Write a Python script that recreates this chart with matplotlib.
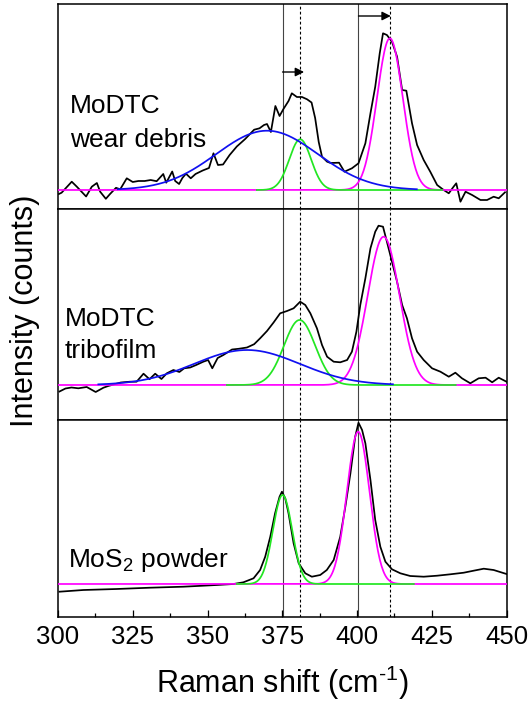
import numpy as np
import matplotlib.pyplot as plt
from matplotlib.ticker import MultipleLocator

plt.rcParams['font.family'] = ['Liberation Sans', 'DejaVu Sans']
plt.rcParams['mathtext.default'] = 'regular'

# measured spectra (baseline at 0, arbitrary counts)
debris_shift = [300.3, 301.2, 304.6, 306.3, 309.4, 311.3, 313.0, 314.1, 316.0, 317.4, 319.4, 320.8,
                323.0, 325.0, 326.9, 329.0, 331.0, 333.0, 335.2, 336.2, 338.2, 339.2, 340.5, 341.6,
                342.8, 344.4, 346.0, 348.4, 350.5, 352.0, 353.5, 355.2, 357.4, 359.8, 362.6, 365.6,
                367.4, 368.9, 369.9, 371.2, 372.7, 374.1, 375.4, 377.1, 378.2, 379.9, 381.6, 383.3,
                384.8, 386.0, 387.2, 388.3, 390.0, 391.2, 394.0, 395.8, 398.3, 400.5, 402.8, 404.5,
                406.1, 407.6, 408.7, 410.0, 411.7, 413.4, 415.1, 416.5, 418.4, 420.1, 422.3, 424.5,
                426.8, 429.0, 430.7, 432.3, 433.2, 434.6, 436.3, 438.5, 441.3, 443.5, 445.7, 447.4,
                449.5]
debris_counts = [-4, -2.7, 8.3, 3.3, -6.5, 3.3, 7, -1.7, -8.8, -4, 2.2, 0.7,
                 11.7, 8, 9, 9, 10, 8.8, 16, 7.3, 18.5, 9, 6, 12,
                 16.3, 11.7, 16, 19.5, 22, 36.7, 25, 25.5, 35, 43.5, 51, 60.3,
                 61.7, 65, 66, 58, 84, 74, 81, 89, 96.7, 93, 93, 90.7,
                 87.5, 72, 48, 33.3, 28.3, 27, 27.3, 18.3, 21.7, 26.7, 46.7, 76.7,
                 103.3, 136.7, 156.7, 155, 148.3, 133.3, 100, 99.3, 66.7, 45, 30, 18.3,
                 5, 0, -3.3, 3.3, 6.7, -11.7, -1.7, -5, -10, -10, -6.7, -8.3,
                 -2.3]

film_shift = [300.5, 302.5, 304.5, 306.8, 309.6, 312.6, 315.2, 316.8, 318.0, 321.0, 324.1, 326.3,
              328.6, 330.6, 332.5, 334.6, 336.4, 338.6, 340.6, 342.2, 344.2, 346.2, 348.6, 350.2,
              351.6, 353.4, 355.3, 358.2, 360.4, 363.2, 365.6, 367.6, 369.9, 372.1, 374.3, 376.6,
              378.8, 381.0, 382.7, 384.4, 386.6, 388.3, 390.0, 392.2, 394.4, 396.7, 398.3, 399.8,
              401.1, 402.8, 404.5, 406.1, 407.2, 408.7, 410.0, 411.7, 413.4, 415.1, 416.7, 418.4,
              420.1, 422.3, 425.1, 427.9, 430.7, 432.9, 435.1, 437.9, 440.7, 443.0, 445.2, 447.4,
              450.0]
film_counts = [-6.5, -3.5, -2.5, -3.3, -2, -7, -2.7, -1, 0, 2.5, 3.3, 3.3,
               11.3, 5.8, 11.3, 6, 11.7, 15, 13, 16.7, 17.5, 20, 23.3, 25,
               16.7, 27, 30, 35.5, 36.2, 37.5, 40.8, 46.7, 54, 62.5, 71.7, 74,
               76.7, 83.3, 80, 71.7, 56.7, 40, 28.3, 23.3, 22.7, 25, 33.3, 53.3,
               80, 106.7, 136.7, 153.3, 159.3, 158.3, 143.3, 123.3, 103.3, 80, 66.7, 46.7,
               33.3, 25, 16.7, 13.3, 8.3, 12.3, 6.7, 1.7, 6.7, 7.3, 2.7, 7.3,
               3.3]

powder_shift = [300.5, 308.5, 319.6, 330.8, 341.9, 348.6, 353.1, 358.7, 362.0, 365.4, 367.6, 369.3,
                371.0, 372.6, 374.1, 374.9, 376.0, 377.1, 378.8, 380.5, 382.7, 384.9, 387.7, 389.9,
                392.2, 394.4, 396.1, 397.8, 399.4, 400.5, 401.7, 402.8, 404.5, 406.1, 407.8, 409.5,
                411.7, 414.5, 417.8, 422.3, 426.8, 431.2, 435.7, 439.0, 442.4, 445.7, 450.0]
powder_counts = [-7.7, -6, -5, -3.7, -2.7, -1.7, -1, 0, 1.7, 5.7, 14, 27.3,
                 47.3, 70.7, 87.3, 92.3, 85.7, 70.7, 40.7, 20.7, 10.7, 7.3, 9, 14,
                 24, 47.3, 77.3, 110.7, 147.3, 161.3, 154, 140.7, 104, 64, 37.3, 22.3,
                 14.7, 10.7, 8, 7.3, 8.3, 9.7, 11.3, 13.3, 15.3, 14, 10]

# fitted gaussian components: centre, height, fwhm and the span they are drawn over
debris_centre = [369.9, 381.0, 411.0]
debris_height = [59.3, 50.7, 151.7]
debris_fwhm = [40.0, 8.6, 10.2]
debris_span = [(320.0, 420.0), (366.5, 428.5), (300.0, 450.0)]

film_centre = [363.2, 380.8, 408.9]
film_height = [35.0, 65.0, 148.3]
film_fwhm = [41.5, 12.3, 12.5]
film_span = [(313.5, 412.0), (356.5, 433.0), (300.0, 450.0)]

powder_centre = [375.1, 400.4]
powder_height = [89.0, 152.3]
powder_fwhm = [7.6, 8.9]
powder_span = [(359.8, 419.0), (300.0, 450.0)]

solid_lines = [375.1, 400.5]
dashed_lines = [381.0, 411.0]

BLUE = '#1010f0'
GREEN = '#22e622'
MAGENTA = '#ff00ff'


def gauss(x, c, h, w):
    return h * np.exp(-4 * np.log(2) * (x - c) ** 2 / w ** 2)


fig = plt.figure(figsize=(5.31, 7.09), dpi=100)
gs = fig.add_gridspec(3, 1, left=58 / 531, right=506.5 / 531, top=1 - 4 / 709,
                      bottom=1 - 617 / 709, hspace=0, height_ratios=[205, 210.5, 197.5])
axes = [fig.add_subplot(gs[0])]
axes.append(fig.add_subplot(gs[1], sharex=axes[0]))
axes.append(fig.add_subplot(gs[2], sharex=axes[0]))

panels = [
    (debris_shift, debris_counts, debris_centre, debris_height, debris_fwhm, debris_span,
     [MAGENTA, GREEN, BLUE], (-19, 186)),
    (film_shift, film_counts, film_centre, film_height, film_fwhm, film_span,
     [MAGENTA, GREEN, BLUE], (-34.5, 176)),
    (powder_shift, powder_counts, powder_centre, powder_height, powder_fwhm, powder_span,
     [MAGENTA, GREEN], (-33, 164.5)),
]
# draw order: magenta first, then green, then blue
draw_order = [[2, 1, 0], [2, 1, 0], [1, 0]]

for ax, (xs, ys, cen, hgt, fw, span, cols, ylim), order in zip(axes, panels, draw_order):
    ax.plot(xs, ys, color='black', lw=1.25, zorder=2)
    for k, i in enumerate(order):
        lo, hi = span[i]
        xx = np.linspace(lo, hi, 500)
        ax.plot(xx, gauss(xx, cen[i], hgt[i], fw[i]), color=cols[k], lw=1.25, zorder=3 + k)
    for v in solid_lines:
        ax.axvline(v, color='#444444', lw=0.8, zorder=1)
    for v in dashed_lines:
        ax.axvline(v, color='black', lw=0.8, ls=(0, (2.5, 2)), zorder=1)
    ax.set_ylim(*ylim)
    ax.set_yticks([])
    for s in ax.spines.values():
        s.set_linewidth(1.1)

ax1, ax2, ax3 = axes
ax1.set_xlim(300, 450)
for ax in (ax1, ax2):
    ax.tick_params(axis='x', which='both', bottom=False, labelbottom=False)

ax3.xaxis.set_major_locator(MultipleLocator(25))
ax3.xaxis.set_minor_locator(MultipleLocator(12.5))
ax3.tick_params(axis='x', which='major', direction='in', length=5, width=0.9,
                labelsize=18.5, pad=6)
ax3.tick_params(axis='x', which='minor', direction='in', length=2.8, width=0.9)
ax3.set_xlabel('Raman shift (cm$^{\u2010 1}$)', fontsize=22, labelpad=10)
fig.text(25 / 531, 1 - 311 / 709, 'Intensity (counts)', rotation=90, fontsize=22,
         ha='center', va='center')

# peak shift arrows
arrow = dict(arrowstyle='-|>', color='black', lw=1.0, mutation_scale=13, shrinkA=0, shrinkB=0)
ax1.annotate('', xy=(382.3, 118), xytext=(375.1, 118), arrowprops=arrow)
ax1.annotate('', xy=(411.3, 174), xytext=(400.5, 174), arrowprops=arrow)

# sample labels
ax1.text(304, 77, 'MoDTC', fontsize=19)
ax1.text(304, 43, 'wear debris', fontsize=19)
ax2.text(302.3, 59.3, 'MoDTC', fontsize=19)
ax2.text(302.3, 27, 'tribofilm', fontsize=19)
ax3.text(303.5, 16.7, 'MoS$_2$ powder', fontsize=19)

fig.savefig('out.png', dpi=100)
